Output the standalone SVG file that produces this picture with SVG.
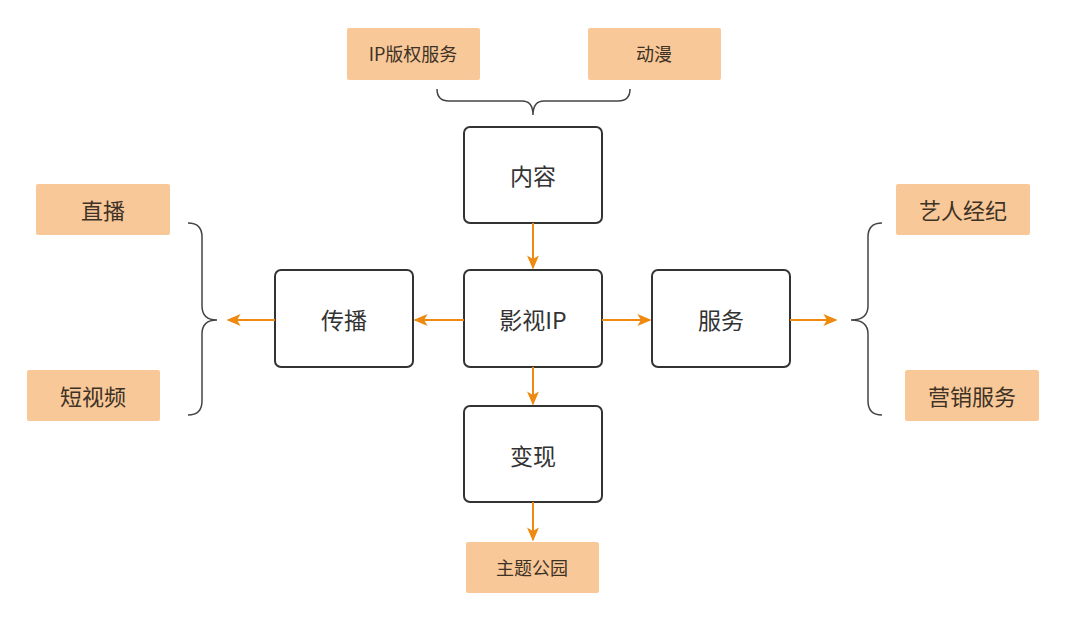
<svg xmlns="http://www.w3.org/2000/svg" width="1080" height="618" viewBox="0 0 1080 618">
<defs>
<marker id="ah" viewBox="0 0 10 10" refX="9" refY="5" markerWidth="14" markerHeight="12" orient="auto-start-reverse" markerUnits="userSpaceOnUse" preserveAspectRatio="none">
<path d="M0,0 L10,5 L0,10 L2.5,5 Z" fill="#ef8a10"/>
</marker>
<style>
.box{fill:#ffffff;stroke:#333333;stroke-width:2}
.tag{fill:#f9c898}
.t{font-family:"Noto Sans CJK SC","Liberation Sans",sans-serif;fill:#333333;text-anchor:middle;dominant-baseline:central}
.tg{fill:#3d3226}
.big{font-size:23px}
.mid{font-size:22px}
.sm{font-size:18px}
.con{stroke:#ef8a10;stroke-width:2;fill:none}
.brace{stroke:#444444;stroke-width:1.5;fill:none}
</style>
</defs>
<rect width="1080" height="618" fill="#ffffff"/>

<g id="node-neirong"><rect class="box" x="464" y="127" width="138" height="96" rx="6"/><text class="t big" x="533" y="175">内容</text></g>
<g id="node-yingshiip"><rect class="box" x="464" y="270" width="138" height="97" rx="6"/><text class="t big" x="533" y="319">影视IP</text></g>
<g id="node-chuanbo"><rect class="box" x="275" y="270" width="138" height="97" rx="6"/><text class="t big" x="344" y="319">传播</text></g>
<g id="node-fuwu"><rect class="box" x="652" y="270" width="138" height="97" rx="6"/><text class="t big" x="721" y="319">服务</text></g>
<g id="node-bianxian"><rect class="box" x="464" y="406" width="138" height="96" rx="6"/><text class="t big" x="533" y="455">变现</text></g>

<g id="tag-ipbanquan"><rect class="tag" x="347" y="28" width="133" height="52" rx="2"/><text class="t tg sm" x="413" y="53">IP版权服务</text></g>
<g id="tag-dongman"><rect class="tag" x="588" y="28" width="133" height="52" rx="2"/><text class="t tg sm" x="654" y="53">动漫</text></g>
<g id="tag-zhibo"><rect class="tag" x="36" y="184" width="134" height="51" rx="2"/><text class="t tg mid" x="103" y="209">直播</text></g>
<g id="tag-duanshipin"><rect class="tag" x="27" y="370" width="133" height="51" rx="2"/><text class="t tg mid" x="93" y="395">短视频</text></g>
<g id="tag-yiren"><rect class="tag" x="896" y="184" width="134" height="51" rx="2"/><text class="t tg mid" x="963" y="209">艺人经纪</text></g>
<g id="tag-yingxiao"><rect class="tag" x="905" y="370" width="134" height="51" rx="2"/><text class="t tg mid" x="972" y="395">营销服务</text></g>
<g id="tag-zhuti"><rect class="tag" x="466" y="542" width="133" height="51" rx="2"/><text class="t tg sm" x="532" y="567">主题公园</text></g>

<g id="braces">
<path class="brace" d="M437,89 Q437,101 449,101 L522,101 Q533,101 533,115 Q533,101 544,101 L618,101 Q630,101 630,89"/>
<path class="brace" d="M188,223 Q202,223 202,237 L202,306 Q202,320 217,320 Q202,320 202,334 L202,401 Q202,415 188,415"/>
<path class="brace" d="M882,223 Q868,223 868,237 L868,306 Q868,320 851,320 Q868,320 868,334 L868,401 Q868,415 882,415"/>
</g>

<g id="connectors">
<line class="con" x1="533" y1="223" x2="533" y2="268" marker-end="url(#ah)"/>
<line class="con" x1="464" y1="320" x2="415" y2="320" marker-end="url(#ah)"/>
<line class="con" x1="275" y1="320" x2="228" y2="320" marker-end="url(#ah)"/>
<line class="con" x1="602" y1="320" x2="650" y2="320" marker-end="url(#ah)"/>
<line class="con" x1="790" y1="320" x2="836" y2="320" marker-end="url(#ah)"/>
<line class="con" x1="533" y1="367" x2="533" y2="404" marker-end="url(#ah)"/>
<line class="con" x1="533" y1="502" x2="533" y2="540" marker-end="url(#ah)"/>
</g>
</svg>
